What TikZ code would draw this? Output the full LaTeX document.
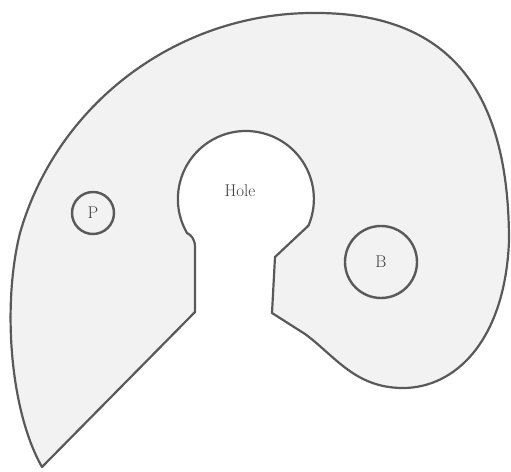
\documentclass[tikz,border=0pt]{standalone}
\usepackage{xcolor}

\begin{document}
\begin{tikzpicture}[x=1pt,y=1pt,
    region/.style={draw=black!65, fill=black!5, line width=2.2pt, line join=round},
    spot/.style={draw=black!65, circle, line width=2.4pt, inner sep=0pt},
    label/.style={font=\fontsize{17}{20}\selectfont, text=black!75}]
  \useasboundingbox (0,0) rectangle (511,471);
  % Draw the plate with the keyhole cut out
  \draw[region] (42,4) -- (195,159) -- (195,224)
    .. controls (195,232) and (191,236) .. (187,238)
    arc[start angle=210, end angle=-23, radius=68]
    -- (275,214) -- (272,158) -- (305,137)
    .. controls (335,115) and (355,83) .. (403,83)
    .. controls (455,83) and (505,130) .. (509,230)
    .. controls (509,380) and (450,459) .. (313,458)
    .. controls (180,458) and (58,370) .. (20,238)
    .. controls (2,166) and (10,60) .. (42,4)
    -- cycle;
  % Draw the labels
  \node[label] (hole) at (240,280) {Hole};
  \node[spot, label, minimum size=42pt] (P) at (93,258) {P};
  \node[spot, label, minimum size=72pt] (B) at (381,209) {B};
\end{tikzpicture}
\end{document}
